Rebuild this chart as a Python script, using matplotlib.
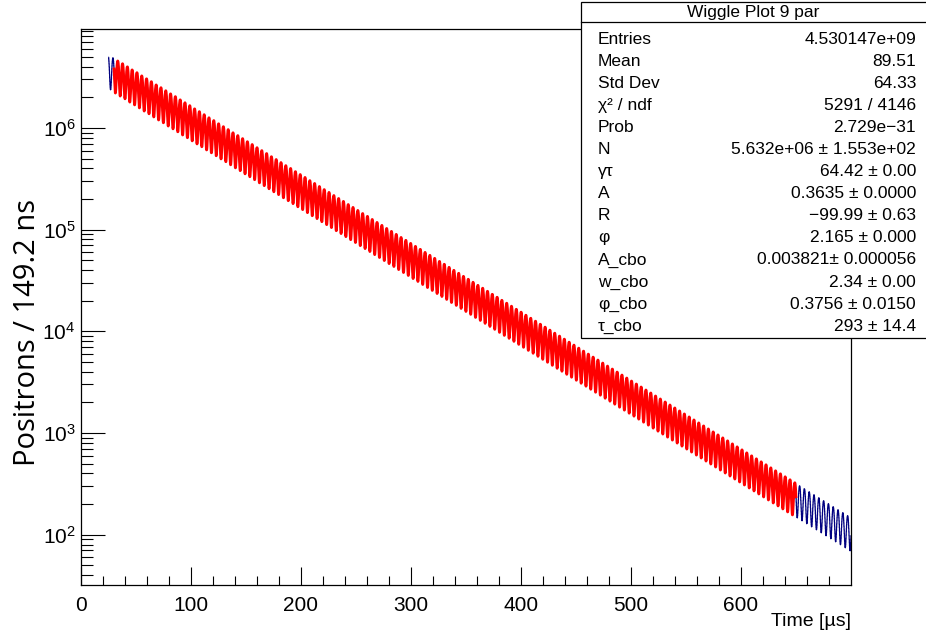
import matplotlib
matplotlib.use('Agg')
import matplotlib.pyplot as plt
from matplotlib.patches import Rectangle
from matplotlib.lines import Line2D
import numpy as np

plt.rcParams['font.family'] = ['Liberation Sans', 'DejaVu Sans']
plt.rcParams['mathtext.fontset'] = 'custom'
plt.rcParams['mathtext.rm'] = 'Liberation Sans'

# fit parameters as printed in the stats box
N0 = 5.632e6
gamma_tau = 64.42
A = 0.3635
R = -99.99
phi = 2.165
A_cbo = 0.003821
w_cbo = 2.34
phi_cbo = 0.3756
tau_cbo = 293.0

bin_width = 0.1492          # us
data_range = (25.0, 700.0)  # us
fit_range = (30.0, 650.0)   # us

stat_labels = ['Entries', 'Mean', 'Std Dev', 'χ² / ndf', 'Prob', 'N',
               'γτ', 'A', 'R', 'φ', 'A_cbo', 'w_cbo', 'φ_cbo', 'τ_cbo']
stat_values = ['4.530147e+09', '89.51', '64.33', '5291 / 4146', '2.729e\u221231',
               '5.632e+06 ± 1.553e+02', '64.42 ± 0.00', '0.3635 ± 0.0000',
               '\u221299.99 ± 0.63', '2.165 ± 0.000', '0.003821± 0.000056',
               '2.34 ± 0.00', '0.3756 ± 0.0150', '293 ± 14.4']


def wiggle(t):
    omega_a = 2 * np.pi * 0.2291 * (1 + R * 1e-6)
    cbo = 1 + A_cbo * np.exp(-t / tau_cbo) * np.cos(w_cbo * t + phi_cbo)
    return N0 * np.exp(-t / gamma_tau) * (1 + A * np.cos(omega_a * t + phi)) * cbo


edges = np.arange(data_range[0], data_range[1] + bin_width, bin_width)
centers = 0.5 * (edges[1:] + edges[:-1])
counts = wiggle(centers)

t_fit = np.linspace(fit_range[0], fit_range[1], 40000)

fig = plt.figure(figsize=(9.26, 6.37), dpi=100)
ax = fig.add_axes([81/926, 52/637, 770/926, 556/637])

ax.stairs(counts, edges, baseline=None, color='#000080', lw=0.9)
ax.plot(t_fit, wiggle(t_fit), color='red', lw=2.0)

ax.set_yscale('log')
ax.set_xlim(0, 700)
ax.set_ylim(32, 9.4e6)
ax.set_xticks(np.arange(0, 700, 100))
ax.set_xticks(np.arange(0, 700, 20), minor=True)
ax.tick_params(axis='both', which='both', direction='in', top=False, right=False,
               labelsize=15, width=0.8)
ax.tick_params(axis='x', which='major', length=13, pad=8)
ax.tick_params(axis='x', which='minor', length=6.5)
ax.tick_params(axis='y', which='major', length=17, pad=4)
ax.tick_params(axis='y', which='minor', length=8.5)
for sp in ax.spines.values():
    sp.set_linewidth(0.9)

fig.text(851/926, 1 - 622/637, 'Time [µs]', ha='right', va='center', fontsize=14)
fig.text(28/926, 1 - 333/637, 'Positrons / 149.2 ns', rotation=90, ha='center', va='center',
         fontsize=21, family=['Open Sans', 'DejaVu Sans'])

# stats box
x0, y_top, y_bot = 581/926, 1 - 2/637, 1 - 338/637
fig.add_artist(Rectangle((x0, y_bot), 1.0 - x0 + 0.01, y_top - y_bot, transform=fig.transFigure,
                         facecolor='white', edgecolor='black', lw=0.9, zorder=5))
fig.add_artist(Line2D([x0, 1.0], [1 - 22/637] * 2, transform=fig.transFigure,
                      color='black', lw=0.9, zorder=6))
fig.text(753/926, 1 - 12/637, 'Wiggle Plot 9 par', ha='center', va='center', fontsize=12.5, zorder=7)
for i, (lab, val) in enumerate(zip(stat_labels, stat_values)):
    y = 1 - (39 + i * 22.1) / 637
    fig.text(598/926, y, lab, ha='left', va='center', fontsize=12.5, zorder=7)
    fig.text(916/926, y, val, ha='right', va='center', fontsize=12.5, zorder=7)

fig.savefig('out.png', dpi=100)
